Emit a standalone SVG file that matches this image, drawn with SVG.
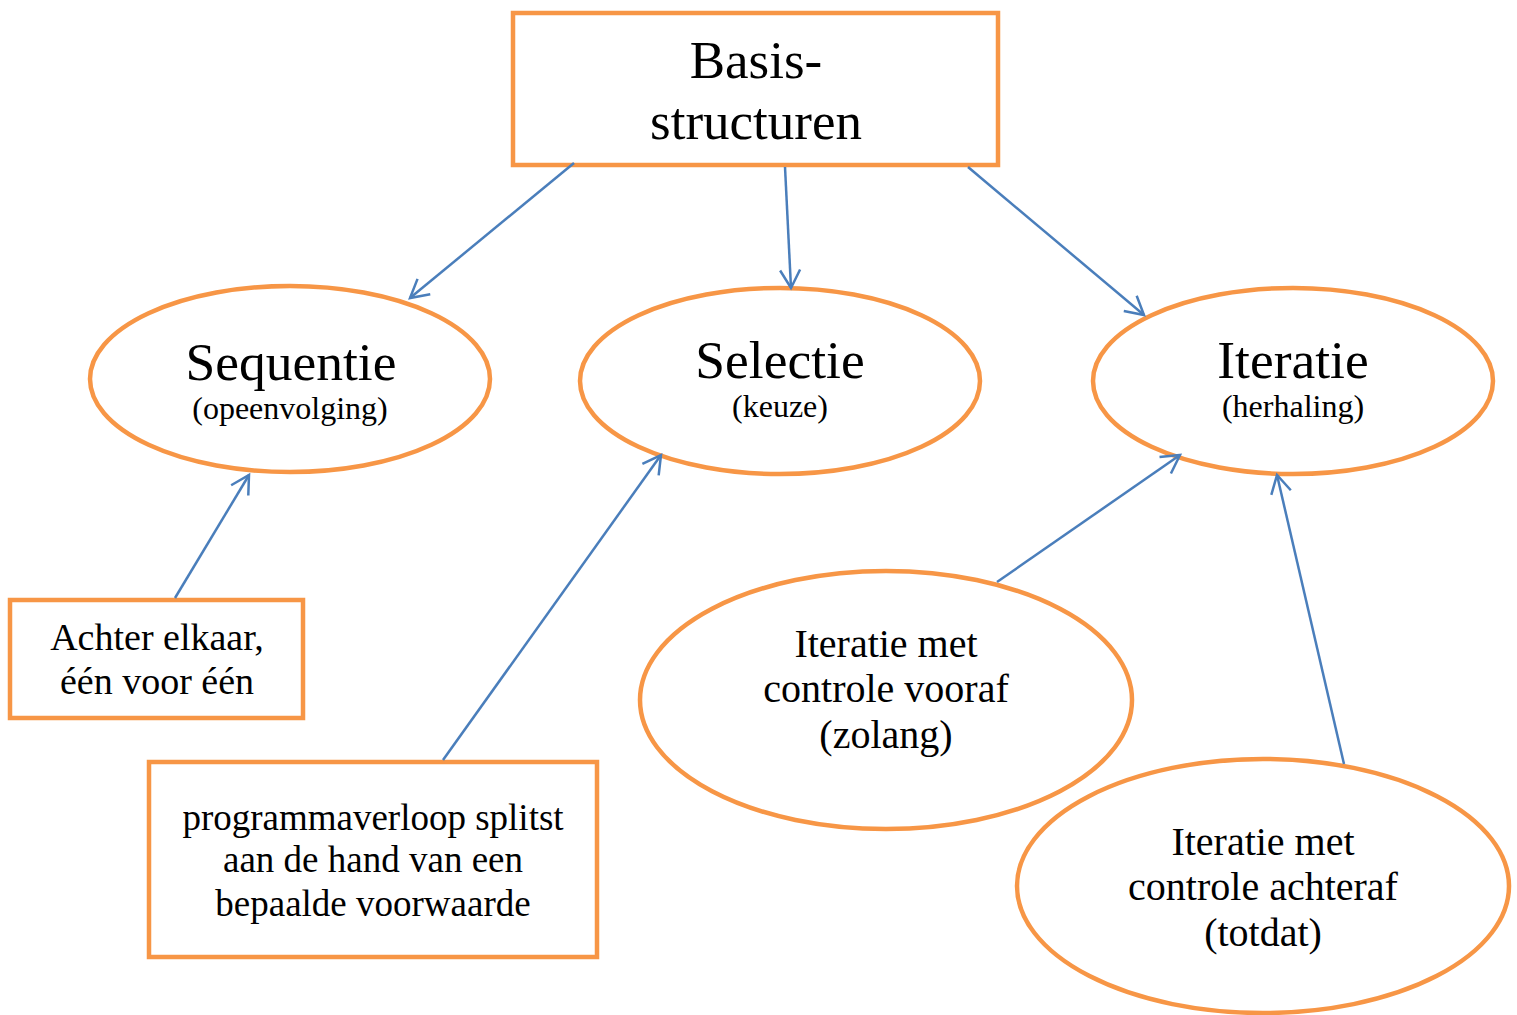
<svg xmlns="http://www.w3.org/2000/svg" width="1517" height="1015" viewBox="0 0 1517 1015">
<style>
.box{fill:#fff;stroke:#F79646;stroke-width:4.5}
.con{stroke:#4A7EBB;stroke-width:2.5;fill:none}
text{font-family:"Liberation Serif","Times New Roman",serif;fill:#000;text-anchor:middle}
.t53{font-size:53px}
.t52{font-size:53.5px}
.t31{font-size:32px}
.t36{font-size:38px}
.t38{font-size:40px}
.t35{font-size:37px}
</style>
<defs>
<marker id="arr" viewBox="0 0 24 24" refX="21" refY="12" markerWidth="24" markerHeight="24" markerUnits="userSpaceOnUse" orient="auto">
<path d="M3,2 L21,12 L3,22" fill="none" stroke="#4A7EBB" stroke-width="2.5"/>
</marker>
</defs>
<rect width="1517" height="1015" fill="#fff"/>
<g id="basis">
<rect class="box" x="513" y="13" width="485" height="152"/>
<text class="t53" x="756" y="78">Basis-</text>
<text class="t53" x="756" y="139">structuren</text>
</g>
<g id="sequentie">
<ellipse class="box" cx="290" cy="379" rx="200" ry="93"/>
<text class="t52" x="291" y="380">Sequentie</text>
<text class="t31" x="290" y="419">(opeenvolging)</text>
</g>
<g id="selectie">
<ellipse class="box" cx="780" cy="381" rx="200" ry="93"/>
<text class="t52" x="780" y="378">Selectie</text>
<text class="t31" x="780" y="417">(keuze)</text>
</g>
<g id="iteratie">
<ellipse class="box" cx="1293" cy="381" rx="200" ry="93"/>
<text class="t52" x="1293" y="378">Iteratie</text>
<text class="t31" x="1293" y="417">(herhaling)</text>
</g>
<g id="achter">
<rect class="box" x="10" y="600" width="293" height="118"/>
<text class="t36" x="157" y="650">Achter elkaar,</text>
<text class="t36" x="157" y="694">één voor één</text>
</g>
<g id="programma">
<rect class="box" x="149" y="762" width="448" height="195"/>
<text class="t35" x="373" y="830">programmaverloop splitst</text>
<text class="t35" x="373" y="872">aan de hand van een</text>
<text class="t35" x="373" y="916">bepaalde voorwaarde</text>
</g>
<g id="vooraf">
<ellipse class="box" cx="886" cy="700" rx="246" ry="129"/>
<text class="t38" x="886" y="657">Iteratie met</text>
<text class="t38" x="886" y="702">controle vooraf</text>
<text class="t38" x="886" y="748">(zolang)</text>
</g>
<g id="achteraf">
<ellipse class="box" cx="1263" cy="886" rx="246" ry="127"/>
<text class="t38" x="1263" y="855">Iteratie met</text>
<text class="t38" x="1263" y="900">controle achteraf</text>
<text class="t38" x="1263" y="946">(totdat)</text>
</g>
<g id="connectors">
<line class="con" x1="574" y1="163" x2="410" y2="298" marker-end="url(#arr)"/>
<line class="con" x1="785" y1="167" x2="791" y2="288" marker-end="url(#arr)"/>
<line class="con" x1="968" y1="167" x2="1144" y2="315" marker-end="url(#arr)"/>
<line class="con" x1="175" y1="598" x2="249" y2="475" marker-end="url(#arr)"/>
<line class="con" x1="443" y1="760" x2="661" y2="455" marker-end="url(#arr)"/>
<line class="con" x1="997" y1="582" x2="1180" y2="455" marker-end="url(#arr)"/>
<line class="con" x1="1344" y1="764" x2="1277" y2="475" marker-end="url(#arr)"/>
</g>
</svg>
